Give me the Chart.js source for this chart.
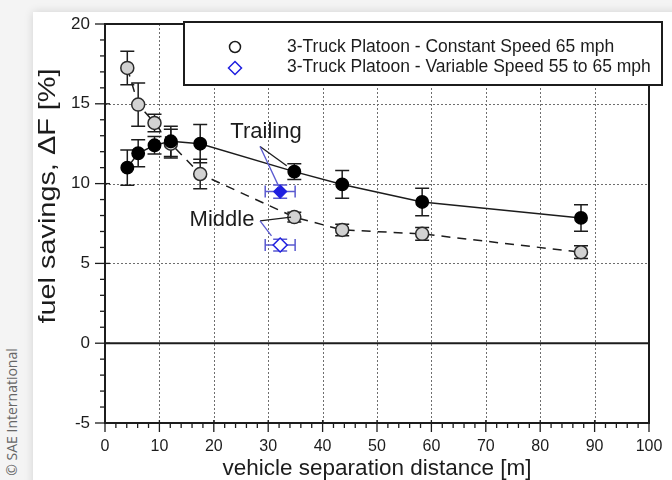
<!DOCTYPE html>
<html>
<head>
<meta charset="utf-8">
<script src="https://cdn.jsdelivr.net/npm/chart.js@4.4.1/dist/chart.umd.min.js"></script>
<style>
  html, body { margin: 0; padding: 0; }
  body { width: 672px; height: 480px; background: #f4f4f4; overflow: hidden; position: relative; font-family: "Liberation Sans", Arial, sans-serif; }
  #card { position: absolute; left: 33px; top: 12px; width: 680px; height: 500px; background: #fff; box-shadow: 0 0 9px rgba(0,0,0,0.14); }
  #wrap { position: absolute; left: 0; top: 0; width: 672px; height: 480px; }
  #credit { position: absolute; left: 11px; top: 412px; transform: translate(-50%, -50%) rotate(-90deg); white-space: nowrap; font: 14px "Open Sans", "Liberation Sans", sans-serif; color: #666; }
</style>
</head>
<body>
<div id="card"></div>
<div id="credit">© SAE International</div>
<div id="wrap"><canvas id="chart"></canvas></div>
<script>
// separation distance [m] for the constant speed runs
const xPos = [4.1, 6.1, 9.1, 12.1, 17.5, 34.8, 43.6, 58.3, 87.5];
// fuel savings [%], trailing truck, constant speed
const trailing = [11.0, 11.9, 12.4, 12.65, 12.5, 10.75, 9.95, 8.85, 7.85];
const trailingErr = [1.1, 0.85, 0.55, 0.95, 1.2, 0.5, 0.87, 0.86, 0.83];
// fuel savings [%], middle truck, constant speed
const middle = [17.25, 14.95, 13.8, 12.5, 10.6, 7.9, 7.1, 6.85, 5.7];
const middleErr = [1.05, 1.35, 0.55, 0.9, 0.93, 0.3, 0.36, 0.4, 0.4];
// variable speed run
const varX = [32.2];
const varXErr = [2.75];
const varTrailing = [9.5];
const varTrailingErr = [0.42];
const varMiddle = [6.15];
const varMiddleErr = [0.37];

const xTicks = [0, 10, 20, 30, 40, 50, 60, 70, 80, 90, 100];
const yTicks = [-5, 0, 5, 10, 15, 20];
const legendLabels = [
  "3-Truck Platoon - Constant Speed 65 mph",
  "3-Truck Platoon - Variable Speed 55 to 65 mph",
];
const xTitle = "vehicle separation distance [m]";
const yTitle = "fuel savings, \u0394F [%]";

// callouts, placed in data units
const callouts = [
  { text: "Trailing", at: [29.6, 12.83], from: [28.5, 12.33], black: [33.4, 11.12], blue: [32.0, 9.78] },
  { text: "Middle", at: [21.5, 7.34], from: [28.5, 7.66], black: [34.2, 7.9], blue: [30.6, 6.72] },
];

const FONT = '"Liberation Sans", Arial, sans-serif';
const INK = "#1c1c1c";
const BLUE = "#1f1fe0";
const BLUE_ERR = "#5a5ad0";

const pts = (xs, ys) => ys.map((y, i) => ({ x: xs[i], y }));

// error bars, grid, frame, legend and labels
const decor = {
  id: "decor",
  beforeDatasetsDraw(chart) {
    const { ctx, chartArea: a, scales: { x, y } } = chart;
    ctx.save();
    // dotted grid
    ctx.strokeStyle = "#6e6e6e";
    ctx.lineWidth = 1;
    ctx.setLineDash([2, 2]);
    xTicks.slice(1, -1).forEach(v => {
      const px = Math.round(x.getPixelForValue(v)) + 0.5;
      ctx.beginPath(); ctx.moveTo(px, a.top); ctx.lineTo(px, a.bottom); ctx.stroke();
    });
    yTicks.filter(v => v > 0 && v < 20).forEach(v => {
      const py = Math.round(y.getPixelForValue(v)) + 0.5;
      ctx.beginPath(); ctx.moveTo(a.left, py); ctx.lineTo(a.right, py); ctx.stroke();
    });
    ctx.setLineDash([]);
    // zero line
    ctx.strokeStyle = INK;
    ctx.lineWidth = 2;
    const y0 = y.getPixelForValue(0);
    ctx.beginPath(); ctx.moveTo(a.left, y0); ctx.lineTo(a.right, y0); ctx.stroke();

    // error bars
    chart.data.datasets.forEach((ds, di) => {
      const meta = chart.getDatasetMeta(di);
      ctx.strokeStyle = ds.errColor;
      ctx.lineWidth = 1.5;
      meta.data.forEach((pt, i) => {
        const d = ds.data[i];
        if (ds.errY) {
          const t = y.getPixelForValue(d.y + ds.errY[i]);
          const b = y.getPixelForValue(d.y - ds.errY[i]);
          ctx.beginPath();
          ctx.moveTo(pt.x, t); ctx.lineTo(pt.x, b);
          ctx.moveTo(pt.x - 7, t); ctx.lineTo(pt.x + 7, t);
          ctx.moveTo(pt.x - 7, b); ctx.lineTo(pt.x + 7, b);
          ctx.stroke();
        }
        if (ds.errX) {
          const l = x.getPixelForValue(d.x - ds.errX[i]);
          const r = x.getPixelForValue(d.x + ds.errX[i]);
          ctx.beginPath();
          ctx.moveTo(l, pt.y); ctx.lineTo(r, pt.y);
          ctx.moveTo(l, pt.y - 6); ctx.lineTo(l, pt.y + 6);
          ctx.moveTo(r, pt.y - 6); ctx.lineTo(r, pt.y + 6);
          ctx.stroke();
        }
      });
    });
    ctx.restore();
  },
  afterDatasetsDraw(chart) {
    const { ctx, chartArea: a, scales: { x, y } } = chart;
    ctx.save();
    // frame
    ctx.strokeStyle = INK;
    ctx.lineWidth = 2;
    ctx.strokeRect(a.left, a.top, a.right - a.left, a.bottom - a.top);
    // y ticks
    ctx.lineWidth = 1.3;
    for (let v = -5; v <= 20; v += 1) {
      const py = y.getPixelForValue(v);
      const major = yTicks.includes(v);
      ctx.beginPath();
      ctx.moveTo(a.left - (major ? 10 : 5), py);
      ctx.lineTo(a.left + (major ? 5 : 0), py);
      ctx.stroke();
    }
    // x ticks
    for (let v = 0; v <= 100; v += 2) {
      const px = x.getPixelForValue(v);
      const major = xTicks.includes(v);
      ctx.beginPath();
      ctx.moveTo(px, a.bottom - (major ? 3 : 0));
      ctx.lineTo(px, a.bottom + (major ? 9 : 5));
      ctx.stroke();
    }

    // callouts
    ctx.font = "22px " + FONT;
    ctx.textAlign = "center";
    ctx.textBaseline = "alphabetic";
    ctx.fillStyle = INK;
    callouts.forEach(c => {
      ctx.fillText(c.text, x.getPixelForValue(c.at[0]), y.getPixelForValue(c.at[1]));
      const fx = x.getPixelForValue(c.from[0]), fy = y.getPixelForValue(c.from[1]);
      ctx.lineWidth = 1.3;
      ctx.strokeStyle = INK;
      ctx.beginPath(); ctx.moveTo(fx, fy);
      ctx.lineTo(x.getPixelForValue(c.black[0]), y.getPixelForValue(c.black[1])); ctx.stroke();
      ctx.strokeStyle = BLUE_ERR;
      ctx.beginPath(); ctx.moveTo(fx, fy);
      ctx.lineTo(x.getPixelForValue(c.blue[0]), y.getPixelForValue(c.blue[1])); ctx.stroke();
    });

    // legend box
    const lx = 184, ly = 22, lw = 478, lh = 63;
    ctx.fillStyle = "#fff";
    ctx.fillRect(lx, ly, lw, lh);
    ctx.strokeStyle = INK;
    ctx.lineWidth = 2;
    ctx.strokeRect(lx, ly, lw, lh);
    ctx.font = "17.5px " + FONT;
    ctx.textAlign = "left";
    ctx.textBaseline = "middle";
    ctx.fillStyle = INK;
    ctx.fillText(legendLabels[0], 287, 47);
    ctx.fillText(legendLabels[1], 287, 67);
    ctx.lineWidth = 1.5;
    ctx.beginPath(); ctx.arc(235, 47, 5.5, 0, Math.PI * 2); ctx.stroke();
    ctx.strokeStyle = BLUE;
    ctx.beginPath();
    ctx.moveTo(235, 61.5); ctx.lineTo(241.5, 68); ctx.lineTo(235, 74.5); ctx.lineTo(228.5, 68); ctx.closePath();
    ctx.stroke();

    // axis titles
    ctx.fillStyle = INK;
    ctx.font = "22.5px " + FONT;
    ctx.textAlign = "center";
    ctx.textBaseline = "alphabetic";
    ctx.fillText(xTitle, (a.left + a.right) / 2, 475);
    ctx.translate(48, 196);
    ctx.rotate(-Math.PI / 2);
    ctx.font = "24px " + FONT;
    ctx.textBaseline = "middle";
    const w = ctx.measureText(yTitle).width;
    ctx.scale(255 / w, 1);
    ctx.fillText(yTitle, 0, 0);
    ctx.restore();
  },
};

new Chart(document.getElementById("chart"), {
  type: "scatter",
  data: {
    datasets: [
      {
        label: legendLabels[0] + " (Trailing)",
        data: pts(xPos, trailing),
        errY: trailingErr,
        errColor: INK,
        showLine: true,
        borderColor: INK,
        borderWidth: 1.5,
        pointRadius: 6.2,
        pointBackgroundColor: "#000",
        pointBorderColor: "#000",
        order: 1,
      },
      {
        label: legendLabels[0] + " (Middle)",
        data: pts(xPos, middle),
        errY: middleErr,
        errColor: INK,
        showLine: true,
        borderColor: INK,
        borderWidth: 1.5,
        borderDash: [9, 7],
        pointRadius: 6.5,
        pointBorderWidth: 1.5,
        pointBackgroundColor: "#d2d2d2",
        pointBorderColor: "#2a2a2a",
        order: 2,
      },
      {
        label: legendLabels[1] + " (Trailing)",
        data: pts(varX, varTrailing),
        errY: varTrailingErr,
        errX: varXErr,
        errColor: BLUE_ERR,
        pointStyle: "rectRot",
        pointRadius: 6.5,
        pointBorderWidth: 1.2,
        pointBackgroundColor: BLUE,
        pointBorderColor: BLUE,
        order: 0,
      },
      {
        label: legendLabels[1] + " (Middle)",
        data: pts(varX, varMiddle),
        errY: varMiddleErr,
        errX: varXErr,
        errColor: BLUE_ERR,
        pointStyle: "rectRot",
        pointRadius: 7,
        pointBorderWidth: 1.5,
        pointBackgroundColor: "#fff",
        pointBorderColor: BLUE,
        order: 0,
      },
    ],
  },
  options: {
    responsive: true,
    maintainAspectRatio: false,
    animation: false,
    layout: { padding: { top: 24, right: 23, left: 0, bottom: 0 } },
    scales: {
      x: {
        type: "linear",
        min: 0,
        max: 100,
        afterFit: s => { s.height = 57; s.paddingRight = 0; },
        afterBuildTicks: s => { s.ticks = xTicks.map(v => ({ value: v })); },
        grid: { display: false, drawTicks: false },
        border: { display: false },
        ticks: { padding: 14, color: INK, font: { family: FONT, size: 16 }, maxRotation: 0 },
      },
      y: {
        type: "linear",
        min: -5,
        max: 20,
        afterFit: s => { s.width = 105; s.paddingTop = 0; s.paddingBottom = 0; },
        afterBuildTicks: s => { s.ticks = yTicks.map(v => ({ value: v })); },
        grid: { display: false, drawTicks: false },
        border: { display: false },
        ticks: { padding: 15, color: INK, font: { family: FONT, size: 17 } },
      },
    },
    plugins: {
      legend: { display: false },
      tooltip: { enabled: false },
    },
  },
  plugins: [decor],
});
</script>
</body>
</html>
